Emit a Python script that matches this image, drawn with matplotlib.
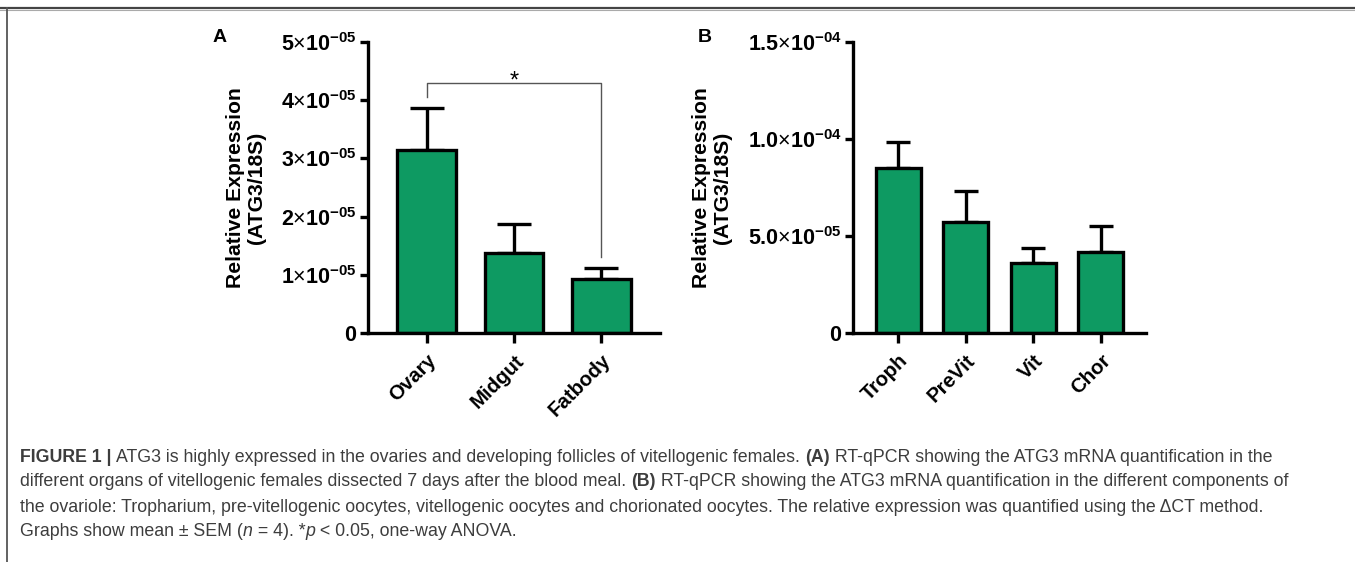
import matplotlib
matplotlib.use('Agg')
import matplotlib.pyplot as plt
from matplotlib.lines import Line2D

# Datos del panel A (órganos)
organos = ['Ovary', 'Midgut', 'Fatbody']
organos_media = [3.14e-5, 1.37e-5, 0.92e-5]
organos_sem = [0.73e-5, 0.50e-5, 0.20e-5]

# Datos del panel B (componentes del ovariolo)
componentes = ['Troph', 'PreVit', 'Vit', 'Chor']
componentes_media = [0.852e-4, 0.572e-4, 0.360e-4, 0.418e-4]
componentes_sem = [0.130e-4, 0.160e-4, 0.080e-4, 0.135e-4]

# Ejes Y
ticks_a = [0, 1e-5, 2e-5, 3e-5, 4e-5, 5e-5]
labels_a = ['0', '1|-05', '2|-05', '3|-05', '4|-05', '5|-05']
ticks_b = [0, 5e-5, 1e-4, 1.5e-4]
labels_b = ['0', '5.0|-05', '1.0|-04', '1.5|-04']

# Comparación significativa (Ovary vs Fatbody)
sig_par = (0, 2)
sig_altura = 4.30e-5
sig_bajadas = (4.06e-5, 1.31e-5)
sig_texto = '*'

VERDE = '#0e9a62'

plt.rcParams.update({
    'font.family': ['Liberation Sans', 'DejaVu Sans'],
    'mathtext.fontset': 'custom',
    'mathtext.rm': 'Liberation Sans',
    'mathtext.bf': 'Liberation Sans:bold',
    'mathtext.it': 'Liberation Sans:italic',
    'axes.linewidth': 2.4,
    'xtick.major.width': 2.4,
    'ytick.major.width': 2.4,
})


def etiqueta_cientifica(texto):
    if '|' not in texto:
        return r'$\mathbf{%s}$' % texto
    base, exp = texto.split('|')
    return r'$\mathbf{%s}{\times}\mathbf{10}^{\mathbf{%s}}$' % (base, exp)


def panel(fig, rect, nombres, medias, sems, ticks, labels, ylim, label_x, cap):
    ax = fig.add_axes(rect)
    x = list(range(len(nombres)))
    ax.bar(x, medias, width=0.67, color=VERDE, edgecolor='black',
           linewidth=2.4, zorder=2)
    ax.errorbar(x, medias, yerr=[[0] * len(sems), sems], fmt='none',
                ecolor='black', elinewidth=2.4, capsize=cap, capthick=2.4,
                zorder=1)
    ax.set_xlim(-0.67, len(nombres) - 1 + 0.67)
    ax.set_ylim(*ylim)
    ax.spines['top'].set_visible(False)
    ax.spines['right'].set_visible(False)
    ax.spines['bottom'].set_position(('data', 0))
    ax.set_yticks(ticks)
    ax.set_yticklabels([etiqueta_cientifica(t) for t in labels], fontsize=15.5)
    ax.set_xticks(x)
    ax.set_xticklabels(nombres, rotation=45, ha='right', va='top',
                       rotation_mode='anchor', fontsize=14.7,
                       fontweight='bold')
    ax.tick_params(axis='y', length=6, pad=2)
    ax.tick_params(axis='x', length=7, pad=6)
    ax.set_ylabel('Relative Expression\n(ATG3/18S)', fontsize=15.2,
                  fontweight='bold', linespacing=1.1)
    ax.yaxis.set_label_coords(label_x, 0.5)
    return ax


def texto_mixto(fig, x, y, partes, size, color):
    """Escribe una línea con tramos en negrita/cursiva."""
    renderer = fig.canvas.get_renderer()
    for texto, peso, estilo in partes:
        t = fig.text(x, y, texto, fontsize=size, fontweight=peso,
                     fontstyle=estilo, color=color, ha='left', va='center')
        bb = t.get_window_extent(renderer)
        x += bb.width / fig.bbox.width


fig = plt.figure(figsize=(13.55, 5.62), dpi=100)

ax_a = panel(fig, [368 / 1355, 1 - 333 / 562, 292 / 1355, 291 / 562],
             organos, organos_media, organos_sem, ticks_a, labels_a,
             (0, 5e-5), -0.35, 12)
ax_b = panel(fig, [853 / 1355, 1 - 333 / 562, 293 / 1355, 291 / 562],
             componentes, componentes_media, componentes_sem, ticks_b,
             labels_b, (0, 1.5e-4), -0.413, 8.5)

# Corchete de significancia
i, j = sig_par
ax_a.plot([i, i, j, j], [sig_bajadas[0], sig_altura, sig_altura, sig_bajadas[1]],
          color='#555555', linewidth=1.0, clip_on=False)
ax_a.text((i + j) / 2, sig_altura - 0.08e-5, sig_texto, ha='center',
          va='baseline', fontsize=17)

fig.text(220 / 1355, 1 - 38 / 562, 'A', fontsize=14, fontweight='bold',
         ha='center', va='center')
fig.text(705 / 1355, 1 - 37 / 562, 'B', fontsize=14, fontweight='bold',
         ha='center', va='center')

# Marco de la figura
fig.add_artist(Line2D([0, 1], [1 - 8.3 / 562] * 2, color='#444444',
                      linewidth=1.6, transform=fig.transFigure))
fig.add_artist(Line2D([0, 1], [1 - 9.8 / 562] * 2, color='#aaaaaa',
                      linewidth=0.8, transform=fig.transFigure))
fig.add_artist(Line2D([7.5 / 1355] * 2, [0, 1 - 8.3 / 562], color='#555555',
                      linewidth=1.3, transform=fig.transFigure))

# Leyenda de la figura
x0 = 20 / 1355
tam = 12.75
gris = '#3d3d3d'
lineas = [
    [('FIGURE 1 | ', 'bold', 'normal'),
     ('ATG3 is highly expressed in the ovaries and developing follicles of vitellogenic females. ', 'normal', 'normal'),
     ('(A)', 'bold', 'normal'),
     (' RT-qPCR showing the ATG3 mRNA quantification in the', 'normal', 'normal')],
    [('different organs of vitellogenic females dissected 7 days after the blood meal. ', 'normal', 'normal'),
     ('(B)', 'bold', 'normal'),
     (' RT-qPCR showing the ATG3 mRNA quantification in the different components of', 'normal', 'normal')],
    [('the ovariole: Tropharium, pre-vitellogenic oocytes, vitellogenic oocytes and chorionated oocytes. '
      'The relative expression was quantified using the \u0394CT method.', 'normal', 'normal')],
    [('Graphs show mean \u00b1 SEM (', 'normal', 'normal'),
     ('n', 'normal', 'italic'),
     (' = 4). *', 'normal', 'normal'),
     ('p', 'normal', 'italic'),
     (' < 0.05, one-way ANOVA.', 'normal', 'normal')],
]
for k, partes in enumerate(lineas):
    texto_mixto(fig, x0, 1 - (457 + 25 * k) / 562, partes, tam, gris)

plt.savefig('out.png', dpi=100, facecolor='white')
plt.close()
